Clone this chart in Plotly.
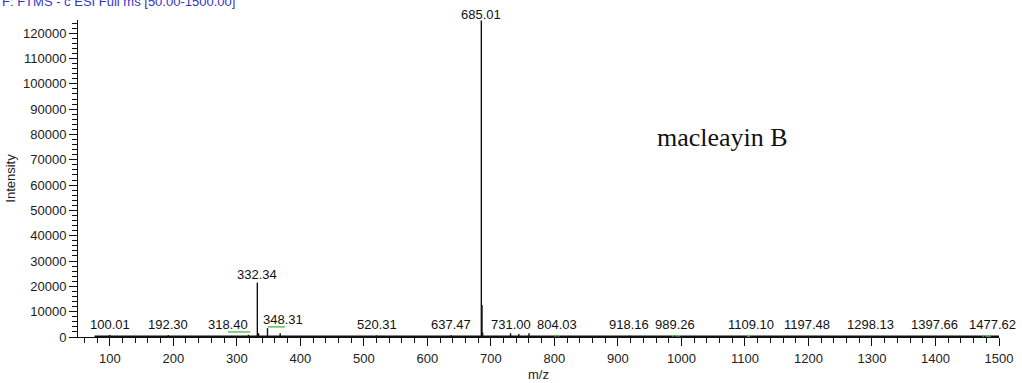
import plotly.graph_objects as go

# ---- data ----
peak_mz = [100.01, 192.30, 318.40, 332.34, 334.3, 348.31, 368.3, 520.31, 637.47,
           685.01, 686.01, 687.02, 731.00, 744.0, 760.0, 804.03, 918.16, 989.26,
           1109.10, 1197.48, 1298.13, 1397.66, 1477.62]
peak_int = [800, 700, 900, 21500, 1500, 3500, 1500, 600, 700,
            125000, 12600, 1800, 1500, 1200, 1500, 500, 500, 500,
            400, 400, 400, 400, 400]

label_mz = [100.01, 192.30, 318.40, 332.34, 348.31, 520.31, 637.47, 685.01, 731.00,
            804.03, 918.16, 989.26, 1109.10, 1197.48, 1298.13, 1397.66, 1477.62]
label_int = [800, 700, 900, 21500, 3500, 600, 700, 125000, 1500,
             500, 500, 500, 400, 400, 400, 400, 400]
label_shift = {318.40: -20, 348.31: 16, 1477.62: 8}

baseline_mz = [76, 1500]
baseline_int = [0, 0]

green_segments = [(286, 321, 2000), (349, 376, 4000), (800, 808, 500),
                  (985, 998, 500), (1103, 1110, 400), (1474, 1487, 400)]

x_ticks = list(range(100, 1501, 100))
y_ticks = list(range(0, 120001, 10000))

font_sans = "Liberation Sans, Arial, sans-serif"

# ---- build ----
sx, sy = [], []
for m, i in zip(peak_mz, peak_int):
    sx += [m, m, None]
    sy += [0, i, None]

gx, gy = [], []
for a, b, h in green_segments:
    gx += [a, b, None]
    gy += [h, h, None]

fig = go.Figure()
fig.add_trace(go.Scatter(x=baseline_mz, y=baseline_int, mode="lines",
                         line=dict(color="#111", width=3), cliponaxis=False,
                         hoverinfo="skip", showlegend=False))
fig.add_trace(go.Scatter(x=gx, y=gy, mode="lines",
                         line=dict(color="#5cc05c", width=1.5), cliponaxis=False,
                         hoverinfo="skip", showlegend=False))
fig.add_trace(go.Scatter(x=sx, y=sy, mode="lines",
                         line=dict(color="#111", width=1.4), cliponaxis=False,
                         hoverinfo="skip", showlegend=False))

for m, i in zip(label_mz, label_int):
    fig.add_annotation(x=m, y=max(i, 1500), xref="x", yref="y",
                       text=f"{m:.2f}", showarrow=False, yanchor="bottom",
                       xshift=label_shift.get(m, 0), yshift=-1 if i < 100000 else -3,
                       font=dict(family=font_sans, size=13, color="#111"))

fig.add_annotation(x=(722 - 78) / 921, y=(337 - 137) / 317, xref="paper", yref="paper",
                   xanchor="center", yanchor="middle",
                   text="macleayin B", showarrow=False,
                   font=dict(family="Liberation Serif, Times New Roman, serif", size=26, color="#111"))

fig.add_annotation(x=-78 / 921, y=1 + (20 - 11) / 317, xref="paper", yref="paper",
                   xanchor="left", yanchor="bottom",
                   text="F: FTMS - c ESI Full ms [50.00-1500.00]", showarrow=False,
                   font=dict(family=font_sans, size=13, color="#3535c8"))

fig.update_layout(
    width=1022, height=383,
    margin=dict(l=78, r=23, t=20, b=46),
    paper_bgcolor="white", plot_bgcolor="white",
    font=dict(family=font_sans, size=13, color="#222"),
    showlegend=False,
)
fig.update_xaxes(
    range=[50, 1500], tickvals=x_ticks, ticktext=[str(v) for v in x_ticks],
    showline=True, linecolor="#111", linewidth=1, automargin=False,
    ticks="outside", ticklen=8, tickcolor="#111", tickwidth=1,
    ticklabelstandoff=1,
    minor=dict(dtick=20, tick0=0, ticks="outside", ticklen=5, tickcolor="#111", showgrid=False),
    showgrid=False, zeroline=False,
    title=dict(text="m/z", font=dict(size=13), standoff=5),
)
fig.update_yaxes(
    range=[0, 125200], tickvals=y_ticks, ticktext=[str(v) for v in y_ticks],
    showline=True, linecolor="#111", linewidth=1, automargin=False,
    ticks="outside", ticklen=8, tickcolor="#111", tickwidth=1,
    minor=dict(dtick=2000, tick0=0, ticks="outside", ticklen=5, tickcolor="#111", showgrid=False),
    showgrid=False, zeroline=False,
    title=dict(text="Intensity", font=dict(size=13), standoff=4),
)

fig.write_html("out.html")
